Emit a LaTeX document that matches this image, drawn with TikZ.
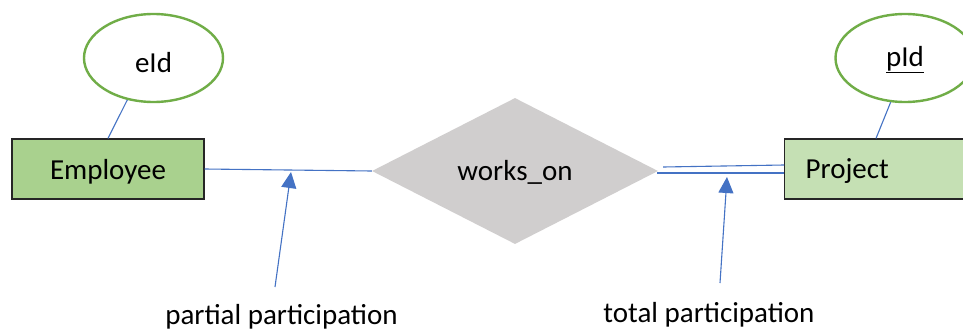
\documentclass[tikz,border=0pt]{standalone}
\usepackage{fontspec}
\setmainfont{Carlito}
\usetikzlibrary{shapes.geometric,arrows.meta,calc}
\definecolor{attrgreen}{HTML}{70AD47}
\definecolor{entgreen}{HTML}{A9D18E}
\definecolor{entlight}{HTML}{C5E0B4}
\definecolor{relgray}{HTML}{D0CECE}
\definecolor{linkblue}{HTML}{4472C4}
\begin{document}
\begin{tikzpicture}[x=1pt,y=-1pt,
  every node/.style={font=\fontsize{29}{34}\selectfont},
  % text height sets where the baseline sits below each shape's centre
  attr/.style={ellipse,draw=attrgreen,line width=2.4pt,fill=white,
    minimum width=139pt,minimum height=88pt,inner sep=0pt,text depth=0pt},
  entity/.style={rectangle,draw=black!85,line width=1.2pt,
    minimum height=60pt,text depth=0pt},
  relation/.style={diamond,fill=relgray,aspect=2,inner sep=0pt,
    minimum width=286pt,minimum height=146pt,text depth=0pt},
  link/.style={draw=linkblue,line width=1.1pt},
  pointer/.style={draw=linkblue,line width=1.1pt,
    -{Triangle[length=16pt,width=15pt,fill=linkblue]}},
  caption/.style={anchor=base,inner sep=0pt}]
\clip (0,0) rectangle (963,332);
\fill[white] (0,0) rectangle (963,332);

% entities, attributes and relationship
\node[entity,fill=entgreen,minimum width=192pt,text height=20pt] (emp) at (108,169) {Employee};
\node[entity,fill=entlight,anchor=west,minimum width=220pt,text height=18pt,
  text width=178pt,inner xsep=21pt,align=left] (proj) at (784,169) {Project};
\node[attr,text height=28pt] (eid) at (153.5,58) {eId};
\node[attr,text height=16pt] (pid) at (905,58) {\underline{pId}};
\node[relation,text height=18pt] (rel) at (515,171) {works\_on};

% attribute links
\draw[link] (eid.238) -- (emp.north);
\draw[link] (pid.252) -- ($(proj.north west)+(92,0)$);

% participation lines (single = partial, double = total)
\draw[link] (emp.east) -- (rel.west);
\draw[link] ($(rel.east)+(5,-4)$) -- ($(proj.west)+(0,-4)$);
\draw[link] ($(rel.east)+(-1,2)$) -- ($(proj.west)+(0,4)$);

% captions with pointers
\node[caption] (partial) at (281.5,324) {partial participation};
\node[caption] (total) at (709,322) {total participation};
\coordinate (ptail) at (275,287);
\coordinate (ptip) at (291,172);
\coordinate (ttail) at (720,283);
\coordinate (ttip) at (727,177);
\draw[pointer] (ptail) -- (ptip);
\draw[pointer] (ttail) -- (ttip);
\end{tikzpicture}
\end{document}
